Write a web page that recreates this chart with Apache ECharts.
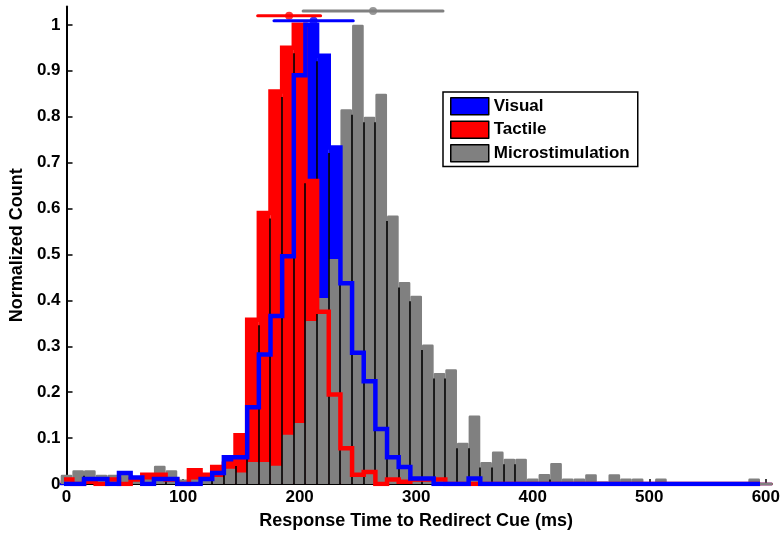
<!DOCTYPE html>
<html><head><meta charset="utf-8">
<script src="https://cdn.jsdelivr.net/npm/echarts@6/dist/echarts.min.js"></script>
<style>html,body{margin:0;padding:0;background:#fff}#c{width:783px;height:535px}</style>
</head><body><div id="c"></div>
<script>
// bin centres (ms)
const binCenters = [0,10,20,30,40,50,60,70,80,90,100,110,120,130,140,150,160,170,180,190,200,210,220,230,240,250,260,270,280,290,300,310,320,330,340,350,360,370,380,390,400,410,420,430,440,450,460,470,480,490,500,510,520,530,540,550,560,570,580,590,600];
const visual = [0,0,0.011,0.011,0,0.024,0.014,0,0.011,0.011,0,0,0.011,0.024,0.058,0.058,0.167,0.282,0.366,0.496,0.89,1.0,0.933,0.733,0.437,0.286,0.224,0.12,0.058,0.037,0.012,0.012,0,0,0,0.012,0,0,0,0,0,0,0,0,0,0,0,0,0,0,0,0,0,0,0,0,0,0,0,0,0];
const tactile = [0.01,0,0.005,0,0.01,0,0.01,0.02,0.02,0.01,0,0.03,0.02,0.037,0.044,0.106,0.358,0.59,0.855,0.95,1.0,0.66,0.375,0.195,0.078,0.02,0.026,0,0.01,0.005,0.01,0.01,0.01,0,0,0,0,0,0,0,0,0,0,0,0,0,0,0,0,0,0,0,0,0,0,0,0,0,0,0,0];
const micro = [0.02,0.03,0.03,0.02,0.02,0.02,0.01,0.01,0.04,0.03,0.01,0.01,0.01,0.015,0.033,0.025,0.048,0.048,0.04,0.107,0.133,0.355,0.405,0.49,0.816,1.0,0.80,0.85,0.585,0.44,0.41,0.304,0.242,0.25,0.09,0.149,0.048,0.071,0.055,0.055,0.012,0.022,0.046,0.012,0.012,0.021,0.005,0.021,0.012,0.012,0,0.012,0,0,0,0,0,0,0,0.012,0];
// mean +/- sd summary bars shown above the histograms
const summaryNames = ['Microstimulation','Tactile','Visual'];
const summaryMean = [263, 191, 212];
const summaryLo = [203, 164, 178];
const summaryHi = [323, 218, 246];
const summaryY = [1.030, 1.020, 1.009];
const yTicks = [0,0.1,0.2,0.3,0.4,0.5,0.6,0.7,0.8,0.9,1];
const xTicks = [0,100,200,300,400,500,600];

const BIN = 10;
const colors = {Visual:'#0000ff', Tactile:'#ff0000', Microstimulation:'#808080'};
const FONT = 'Liberation Sans';

const chart = echarts.init(document.getElementById('c'));
const gridW = 783 - 66 - 17;
const barPx = gridW / 600 * BIN;

function barSeries(name, vals){
  return {
    type:'bar', name, barWidth: barPx, barGap:'-100%',
    data: binCenters.map((c,i)=>[c, vals[i]]),
    itemStyle:{color:colors[name], borderColor:colors[name], borderWidth:2.5, borderJoin:'round'},
    emphasis:{disabled:true}, animation:false, clip:true
  };
}
function stairs(vals){
  const d = [];
  binCenters.slice(0, binCenters.length-1).forEach((c,i)=>{ d.push([c-BIN/2, vals[i]]); d.push([c+BIN/2, vals[i]]); });
  return d;
}
const maxAll = binCenters.map((c,i)=>Math.max(visual[i], tactile[i], micro[i]));
const edges = [];
for (let i=0;i<binCenters.length-1;i++){
  const h = Math.min(maxAll[i], maxAll[i+1]) - 0.012;
  if (h > 0.004) edges.push([binCenters[i]+BIN/2, h]);
}

const series = [
  barSeries('Visual', visual),
  barSeries('Tactile', tactile),
  barSeries('Microstimulation', micro),
  {type:'custom', data: edges, animation:false, silent:true, clip:true, z:2.5,
   renderItem(params, api){
     const p0 = api.coord([api.value(0), 0]);
     const p1 = api.coord([api.value(0), api.value(1)]);
     const x = Math.round(p0[0]);
     return {type:'line', shape:{x1:x, y1:p0[1], x2:x, y2:p1[1]}, style:{stroke:'#000', lineWidth:1.6}};
   }},
  {type:'line', data: stairs(tactile), symbol:'none', clip:true, animation:false, silent:true,
   lineStyle:{color:colors.Tactile, width:4.5, join:'miter'}},
  {type:'line', data: stairs(visual), symbol:'none', clip:true, animation:false, silent:true,
   lineStyle:{color:colors.Visual, width:4.5, join:'miter'}}
];
summaryNames.forEach((n,i)=>{
  series.push({type:'line', data:[[summaryLo[i], summaryY[i]],[summaryHi[i], summaryY[i]]], symbol:'none', animation:false, silent:true, clip:false,
    lineStyle:{color:colors[n], width:3, cap:'round'}});
  series.push({type:'scatter', data:[[summaryMean[i], summaryY[i]]], symbol:'circle', symbolSize:8, animation:false, silent:true, clip:false,
    itemStyle:{color:colors[n]}});
});

chart.setOption({
  animation:false,
  backgroundColor:'#fff',
  grid:{left:66, right:17, top:6.5, bottom:48, containLabel:false},
  legend:{
    orient:'vertical', left:443, top:92, width:195,
    data:['Visual','Tactile','Microstimulation'].map(n=>({name:n, itemStyle:{borderColor:'#000', borderWidth:1.5}})),
    icon:'rect', itemWidth:38, itemHeight:17, itemGap:5,
    backgroundColor:'#fff', borderColor:'#000', borderWidth:1.5, padding:[5,8,4,7],
    textStyle:{color:'#000', fontWeight:'bold', fontSize:17, fontFamily:FONT},
    selectedMode:false
  },
  xAxis:{
    type:'value', min:0, max:600, interval:100,
    axisLine:{show:true, onZero:false, lineStyle:{color:'#000', width:2}},
    axisTick:{show:true, inside:true, length:5, lineStyle:{color:'#000', width:1.5}, customValues:xTicks},
    axisLabel:{customValues:xTicks, color:'#000', fontWeight:'bold', fontSize:17, fontFamily:FONT, margin:5},
    splitLine:{show:false},
    name:'Response Time to Redirect Cue (ms)', nameLocation:'middle', nameGap:28,
    nameTextStyle:{color:'#000', fontWeight:'bold', fontSize:18, fontFamily:FONT}
  },
  yAxis:{
    type:'value', min:0, max:1.04,
    axisLine:{show:true, lineStyle:{color:'#000', width:2}},
    axisTick:{show:true, inside:true, length:6, lineStyle:{color:'#000', width:1.5}, customValues:yTicks},
    axisLabel:{customValues:yTicks, formatter:v=>String(+(+v).toFixed(2)), color:'#000', fontWeight:'bold', fontSize:17, fontFamily:FONT, margin:6},
    splitLine:{show:false},
    name:'Normalized Count', nameLocation:'middle', nameGap:34,
    nameTextStyle:{color:'#000', fontWeight:'bold', fontSize:18, fontFamily:FONT}
  },
  series
});
</script></body></html>
